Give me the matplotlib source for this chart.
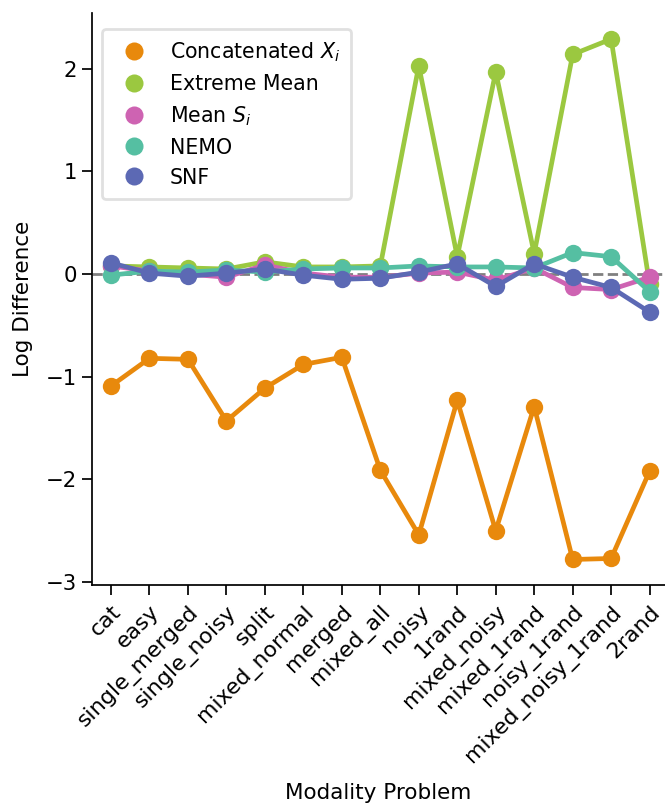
import matplotlib
matplotlib.use("Agg")
import matplotlib.pyplot as plt
from matplotlib.lines import Line2D

categories = ["cat", "easy", "single_merged", "single_noisy", "split", "mixed_normal",
              "merged", "mixed_all", "noisy", "1rand", "mixed_noisy", "mixed_1rand",
              "noisy_1rand", "mixed_noisy_1rand", "2rand"]

concatenated = [-1.09, -0.82, -0.83, -1.43, -1.11, -0.88, -0.81, -1.91, -2.54, -1.23,
                -2.50, -1.29, -2.78, -2.77, -1.92]
extreme_mean = [0.08, 0.07, 0.06, 0.05, 0.12, 0.07, 0.07, 0.08, 2.03, 0.17,
                1.97, 0.20, 2.14, 2.29, -0.10]
mean_si = [0.08, 0.03, 0.00, -0.03, 0.09, 0.01, -0.03, -0.03, 0.01, 0.02,
           -0.06, 0.06, -0.13, -0.15, -0.03]
nemo = [-0.01, 0.03, 0.02, 0.04, 0.02, 0.05, 0.06, 0.06, 0.08, 0.07,
        0.07, 0.06, 0.21, 0.17, -0.17]
snf = [0.11, 0.01, -0.02, 0.01, 0.05, -0.01, -0.05, -0.04, 0.02, 0.10,
       -0.12, 0.10, -0.03, -0.13, -0.37]

series = [
    ("Concatenated $X_i$", concatenated, "#E8890C"),
    ("Extreme Mean", extreme_mean, "#9BC840"),
    ("Mean $S_i$", mean_si, "#CE63B2"),
    ("NEMO", nemo, "#55BFA2"),
    ("SNF", snf, "#5C69B4"),
]

fig = plt.figure(figsize=(6.65, 8.06), dpi=100)
ax = fig.add_axes([0.138, 0.274, 0.862, 0.710])

x = list(range(len(categories)))
ax.axhline(0, color="gray", linestyle="--", linewidth=2, zorder=1)
for label, vals, color in series:
    ax.plot(x, vals, color=color, linewidth=3.4, marker="o", markersize=12.5,
            markeredgewidth=0, zorder=2)

ax.set_xlim(-0.5, 14.4)
ax.set_ylim(-3.03, 2.545)
ax.set_yticks([-3, -2, -1, 0, 1, 2])
ax.set_xticks(x)
ax.set_xticklabels(categories, rotation=45, ha="right", rotation_mode="anchor", fontsize=15.8)
ax.tick_params(axis="y", labelsize=15.3, length=7, width=1.25)
ax.tick_params(axis="x", length=7, width=1.25, pad=5)
for s in ["top", "right"]:
    ax.spines[s].set_visible(False)
for s in ["left", "bottom"]:
    ax.spines[s].set_linewidth(1.25)
ax.set_xlabel("Modality Problem", fontsize=15.5, labelpad=12)
ax.set_ylabel("Log Difference", fontsize=15.5, labelpad=9)

handles = [Line2D([], [], linestyle="none", marker="o", markersize=13, color=c,
                  markeredgewidth=0) for _, _, c in series]
leg = ax.legend(handles, [s[0] for s in series], loc="upper left", fontsize=14.8,
                frameon=True, fancybox=True, borderpad=0.55, handletextpad=0.75,
                labelspacing=0.49, borderaxespad=0.5, bbox_to_anchor=(0.0, 0.99))
leg.get_frame().set_linewidth(2)
leg.get_frame().set_edgecolor("#d9d9d9")

fig.savefig("out.png", dpi=100)
